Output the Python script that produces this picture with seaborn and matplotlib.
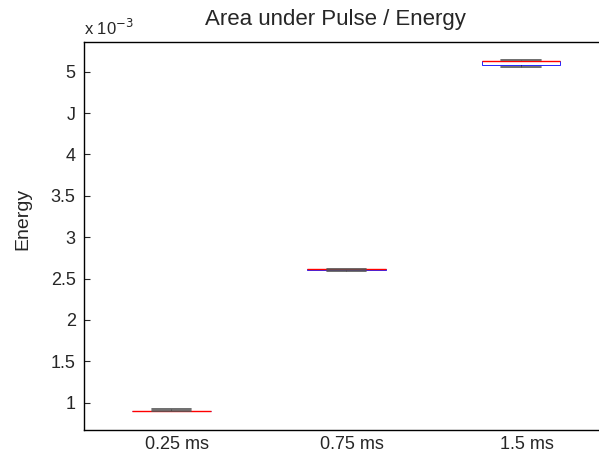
import numpy as np
import pandas as pd
import matplotlib
matplotlib.use("Agg")
import matplotlib.pyplot as plt
import matplotlib.transforms as mtransforms
import seaborn as sns

# Data (energy in units of 1e-3 J)
categories = ["0.25 ms", "0.75 ms", "1.5 ms"]
energy_025 = [0.896, 0.898, 0.900, 0.902, 0.918]
energy_075 = [2.597, 2.605, 2.610, 2.613, 2.621]
energy_150 = [5.062, 5.085, 5.126, 5.130, 5.145]
y_ticks = [1, 1.5, 2, 2.5, 3, 3.5, 4, 4.5, 5]
y_ticklabels = ["1", "1.5", "2", "2.5", "3", "3.5", "4", "J", "5"]

df = pd.DataFrame({
    "pulse": [categories[0]] * len(energy_025) + [categories[1]] * len(energy_075) + [categories[2]] * len(energy_150),
    "energy": energy_025 + energy_075 + energy_150,
})

sns.set_style("white")
plt.rcParams["font.family"] = ["Liberation Sans", "DejaVu Sans"]

fig = plt.figure(figsize=(5.99, 4.54), dpi=100)
ax = fig.add_axes([84 / 599, 24 / 454, 524.5 / 599, 388 / 454])

sns.boxplot(
    data=df, x="pulse", y="energy", order=categories, ax=ax,
    width=0.45, whis=(0, 100), showfliers=False,
    boxprops=dict(facecolor="white", edgecolor="#0000ff", linewidth=0.6),
    medianprops=dict(color="#ff0000", linewidth=1.0, zorder=5),
    whiskerprops=dict(color="black", linestyle="--", linewidth=0.6),
    capprops=dict(color="#555555", linewidth=1.2, zorder=6),
)

ax.set_xlim(-0.5, 2.5)
ax.set_ylim(0.67, 5.359)
ax.set_yticks(y_ticks)
ax.set_yticklabels(y_ticklabels)
ax.set_xlabel("")
ax.set_ylabel("Energy", fontsize=14)
ax.yaxis.set_label_coords(-0.1, 0.545)
ax.tick_params(axis="y", direction="in", length=4, width=0.8, labelsize=13, pad=6, left=True)
ax.tick_params(axis="x", length=0, labelsize=13, pad=4)

offset = mtransforms.ScaledTranslation(6 / 100, 0, fig.dpi_scale_trans)
for lbl in ax.get_xticklabels():
    lbl.set_transform(lbl.get_transform() + offset)

for side in ["left", "bottom", "top"]:
    ax.spines[side].set_visible(True)
    ax.spines[side].set_color("black")
    ax.spines[side].set_linewidth(1.0)
ax.spines["right"].set_visible(False)

ax.text(0.0, 1.01, r"x 10$^{-3}$", transform=ax.transAxes, fontsize=12, ha="left", va="bottom")
fig.text(335 / 599, 1 - 20 / 454, "Area under Pulse / Energy", fontsize=16, ha="center", va="center")

fig.savefig("out.png", dpi=100)
